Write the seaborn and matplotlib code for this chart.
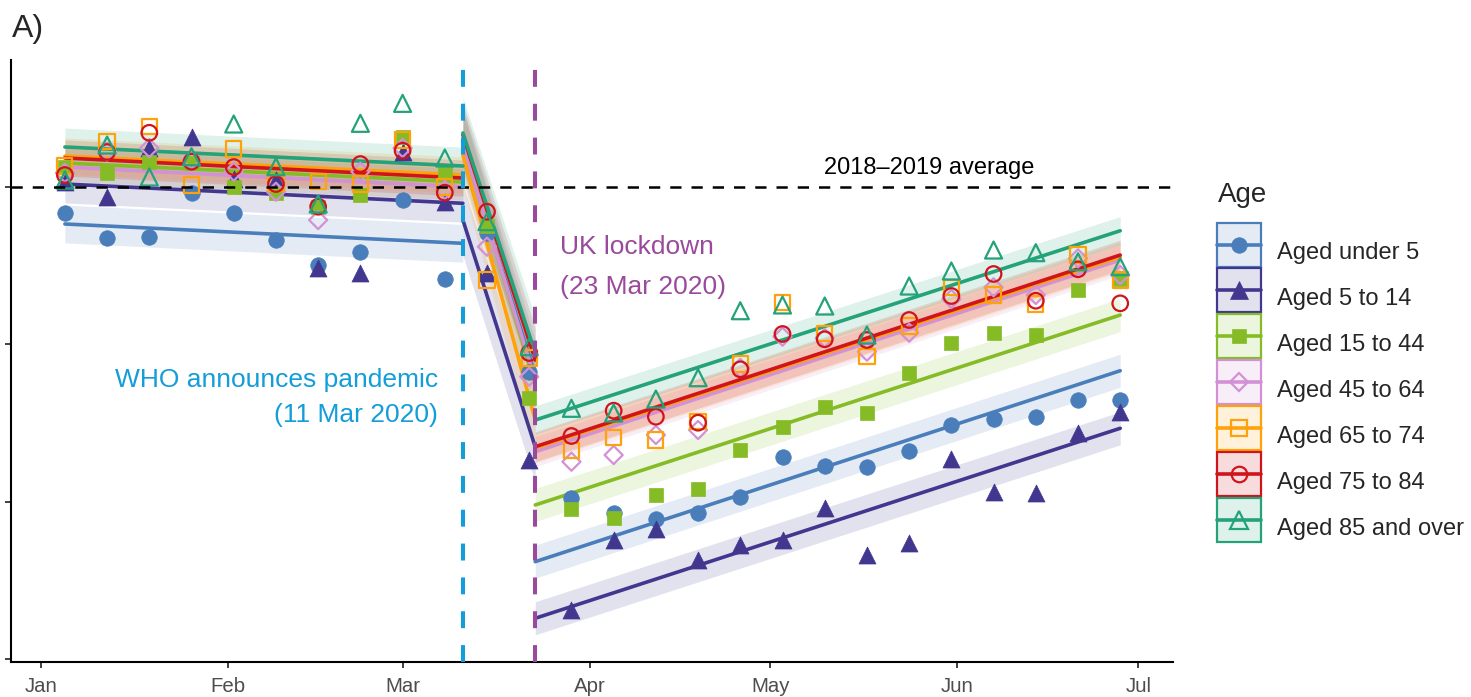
import numpy as np
import pandas as pd
import matplotlib
matplotlib.use("Agg")
import matplotlib.pyplot as plt
import matplotlib.dates as mdates
from matplotlib.lines import Line2D
from matplotlib.patches import Patch, Rectangle
from matplotlib.colors import to_rgba
from matplotlib.legend_handler import HandlerPatch
import seaborn as sns

groups = ["Aged under 5", "Aged 5 to 14", "Aged 15 to 44", "Aged 45 to 64",
          "Aged 65 to 74", "Aged 75 to 84", "Aged 85 and over"]
colours = ["#4A7EBB", "#41378F", "#85BC26", "#D291D4", "#FFA20A", "#D0141B", "#24A27A"]
markers = ["o", "^", "s", "D", "s", "o", "^"]
filled = [True, True, True, False, False, False, False]
msizes = [125, 150, 100, 85, 120, 125, 150]

weeks = pd.date_range("2020-01-05", periods=26, freq="7D")

# weekly values (% vs 2018-2019 average)
under5 = [-3.27, -6.48, -6.36, -0.76, -3.27, -6.74, -9.92, -8.23, -1.65, -11.70,
          -5.85, -23.48,
          -39.58, -41.49, -42.25, -41.49, -39.38, -34.37, -35.47, -35.56, -33.53, -30.26,
          -29.54, -29.21, -27.08, -27.08]
age5_14 = [0.67, -1.23, 4.96, 6.36, 1.02, 0.89, -10.30, -10.93, 4.49, -1.87,
           -10.93, -34.71,
           -53.78, -44.88, -43.52, -47.43, -45.52, -44.88, -40.85, -46.79, -45.23, -34.62,
           -38.74, -38.95, -31.32, -28.57]
age15_44 = [2.54, 1.82, 3.22, 3.05, 0.04, -0.76, -2.50, -1.02, 6.40, 1.78,
            -4.96, -26.83,
            -40.98, -42.09, -39.16, -38.44, -33.44, -30.48, -27.93, -28.77, -23.69, -19.87,
            -18.60, -18.82, -13.10, -11.74]
age45_64 = [1.78, 4.50, 4.96, 3.43, 1.95, -0.60, -4.20, 1.95, 4.96, -0.38,
            -7.59, -24.12,
            -34.93, -34.08, -31.53, -30.90, -23.01, -19.03, -19.20, -20.94, -18.53, -14.24,
            -12.75, -13.73, -9.07, -11.19]
age65_74 = [2.67, 5.76, 7.67, 0.25, 4.83, 0.51, 0.67, 0.38, 5.98, 0.00,
            -11.83, -21.75,
            -33.53, -31.88, -32.17, -29.84, -22.51, -14.71, -18.60, -21.58, -17.67, -12.75,
            -13.73, -14.88, -8.65, -11.82]
age75_84 = [1.53, 4.45, 6.90, 3.22, 2.54, 0.38, -2.50, 2.92, 4.62, -0.72,
            -3.14, -21.11,
            -31.66, -28.44, -29.21, -29.97, -23.18, -18.69, -19.36, -19.45, -16.91, -13.86,
            -11.06, -14.46, -10.46, -14.79]
age85 = [0.89, 5.34, 1.27, 3.85, 8.01, 2.58, -2.16, 8.10, 10.64, 3.69,
         -4.41, -20.31,
         -28.14, -28.74, -26.96, -24.25, -15.73, -15.00, -15.13, -18.82, -12.59, -10.68,
         -8.01, -8.35, -9.50, -10.13]
series = [under5, age5_14, age15_44, age45_64, age65_74, age75_84, age85]

# fitted segments (start / end value per group) and CI half width
seg_dates = [("2020-01-05", "2020-03-11"), ("2020-03-11", "2020-03-23"), ("2020-03-23", "2020-06-28")]
pre_start = [-4.70, 0.38, 3.05, 2.54, 3.94, 3.69, 5.09]
pre_end = [-7.16, -2.07, 0.64, 0.00, 1.53, 1.14, 2.67]
trans_start = [5.34, -4.20, 5.98, 5.34, 4.07, 6.61, 6.87]
trans_end = [-23.90, -33.06, -25.18, -24.54, -29.63, -22.00, -21.11]
post_start = [-47.64, -54.84, -40.43, -33.66, -33.19, -33.02, -29.63]
post_end = [-23.36, -30.68, -16.28, -9.28, -8.90, -8.65, -5.56]
pre_ci = [2.4, 2.4, 2.3, 2.3, 2.3, 2.3, 2.4]
trans_ci = [4.5, 4.5, 4.0, 4.0, 4.0, 4.0, 4.5]
post_ci = [2.1, 2.1, 2.1, 1.9, 1.9, 1.9, 1.8]

who_date = pd.Timestamp("2020-03-11")
lockdown_date = pd.Timestamp("2020-03-23")
who_col = "#139DD9"
lock_col = "#9A4A9C"

sns.set_style("ticks")
plt.rcParams["font.family"] = ["Liberation Sans", "DejaVu Sans"]

fig = plt.figure(figsize=(14.71, 6.97), dpi=100)
ax = fig.add_axes([0.0075, 0.0502, 0.7897, 0.8637])

starts = [pre_start, trans_start, post_start]
ends = [pre_end, trans_end, post_end]
cis = [pre_ci, trans_ci, post_ci]

for g in range(len(groups)):
    c = colours[g]
    for s in range(3):
        t0, t1 = pd.Timestamp(seg_dates[s][0]), pd.Timestamp(seg_dates[s][1])
        v0, v1 = starts[s][g], ends[s][g]
        hw = cis[s][g]
        ax.fill_between([t0, t1], [v0 - hw, v1 - hw], [v0 + hw, v1 + hw],
                        color=c, alpha=0.15, lw=0, zorder=1)

for g in range(len(groups)):
    c = colours[g]
    for s in range(3):
        t0, t1 = pd.Timestamp(seg_dates[s][0]), pd.Timestamp(seg_dates[s][1])
        sns.lineplot(x=[t0, t1], y=[starts[s][g], ends[s][g]], color=c, lw=2.6, ax=ax, zorder=2)

for g in range(len(groups)):
    c = colours[g]
    df = pd.DataFrame({"week": weeks, "value": series[g]})
    if filled[g]:
        sns.scatterplot(data=df, x="week", y="value", marker=markers[g], s=msizes[g],
                        color=c, edgecolor=c, linewidth=0.5, ax=ax, zorder=3)
    else:
        sns.scatterplot(data=df, x="week", y="value", marker=markers[g], s=msizes[g],
                        facecolor="none", edgecolor=c, linewidth=1.6, ax=ax, zorder=3)

ax.axhline(0, color="black", lw=1.8, ls=(0, (4.5, 4)), zorder=4)
ax.axvline(who_date, color=who_col, lw=2.9, ls=(0, (4.2, 4.2)), zorder=5)
ax.axvline(lockdown_date, color=lock_col, lw=2.9, ls=(0, (4.2, 4.2)), zorder=5)

ax.text(pd.Timestamp("2020-05-27 08:00"), 2.4, "2018\u20132019 average", fontsize=17,
        ha="center", va="center", color="black")
ax.text(pd.Timestamp("2020-03-06 22:00"), -24.5, "WHO announces pandemic", fontsize=19,
        ha="right", va="center", color=who_col)
ax.text(pd.Timestamp("2020-03-06 22:00"), -29.0, "(11 Mar 2020)", fontsize=19,
        ha="right", va="center", color=who_col)
ax.text(pd.Timestamp("2020-03-27 02:00"), -7.6, "UK lockdown", fontsize=19,
        ha="left", va="center", color=lock_col)
ax.text(pd.Timestamp("2020-03-27 02:00"), -12.7, "(23 Mar 2020)", fontsize=19,
        ha="left", va="center", color=lock_col)

ax.set_xlim(pd.Timestamp("2020-01-01") - pd.Timedelta(days=4.93),
            pd.Timestamp("2020-01-01") + pd.Timedelta(days=187.7))
ax.set_ylim(-60.4, 16.15)
ax.xaxis.set_major_locator(mdates.MonthLocator())
ax.xaxis.set_major_formatter(mdates.DateFormatter("%b"))
ax.set_yticks([0, -20, -40, -60])
ax.set_yticklabels([])
ax.set_xlabel("")
ax.set_ylabel("")
ax.tick_params(axis="both", length=4.5, width=1.3, color="#333333", labelsize=14.7,
               labelcolor="#4D4D4D", pad=3)
ax.tick_params(axis="x", pad=6)
for side in ["left", "bottom"]:
    ax.spines[side].set_linewidth(1.5)
    ax.spines[side].set_color("black")
sns.despine(ax=ax)


# legend key box centred on the key line
def key_box(legend, orig_handle, xdescent, ydescent, width, height, fontsize):
    return Rectangle(xy=(-xdescent, -ydescent / 2), width=width, height=height)


handles = []
for g in range(len(groups)):
    c = colours[g]
    box = Patch(facecolor=to_rgba(c, 0.15), edgecolor=c, linewidth=1.6)
    mfc = c if filled[g] else "none"
    ln = Line2D([], [], color=c, lw=2.6, marker=markers[g], markersize=np.sqrt(msizes[g]),
                markerfacecolor=mfc, markeredgecolor=c, markeredgewidth=1.6 if not filled[g] else 0.5)
    handles.append((box, ln))

fig.legend(handles=handles, labels=groups, loc="upper left",
           bbox_to_anchor=(1217 / 1471, 1 - 230 / 697), frameon=False,
           fontsize=17, handlelength=1.86, handleheight=2.49, labelspacing=0.08,
           handletextpad=0.68, borderpad=0, borderaxespad=0,
           handler_map={Patch: HandlerPatch(patch_func=key_box)})
fig.text(1218 / 1471, 1 - 202 / 697, "Age", fontsize=20, ha="left", va="baseline")

fig.text(12 / 1471, 1 - 29 / 697, "A)", fontsize=23, ha="left", va="center")

fig.savefig("out.png", dpi=100)
